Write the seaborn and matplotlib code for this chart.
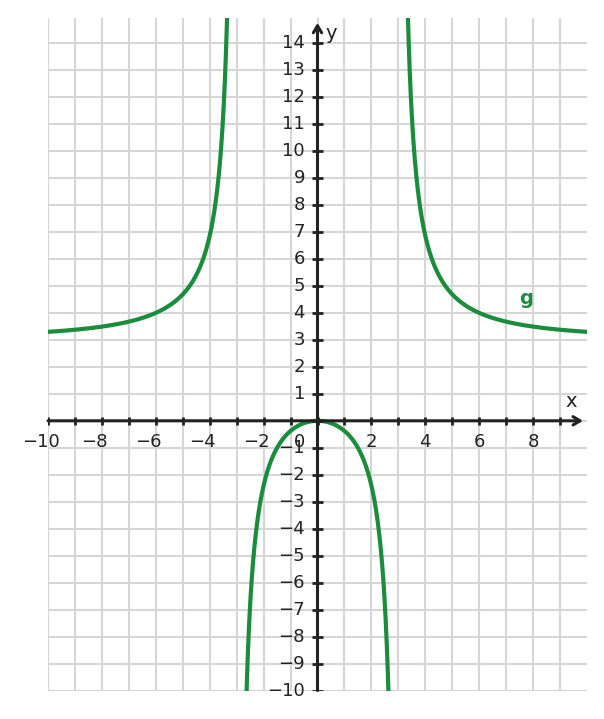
import numpy as np
import pandas as pd
import matplotlib
matplotlib.use("Agg")
import matplotlib.pyplot as plt
import seaborn as sns

# ---- data ----
x_min, x_max = -10, 10
y_min, y_max = -10, 14.93
# g(x) = a*x^2 / (x^2 - p^2): horizontal asymptote y=a, poles at x=+-p
g_coef = 3.0
g_pole = 3.0
x_tick_labels = [-10, -8, -6, -4, -2, 2, 4, 6, 8]
y_tick_labels = [v for v in range(-10, 15) if v != 0]
curve_label = "g"

GREEN = "#1a8c3c"
DARK = "#222222"
GRID = "#d6d6d6"
FS = 13

def g(x):
    return g_coef * x**2 / (x**2 - g_pole**2)

segments = []
for name, (a, b) in {"left": (x_min, -g_pole - 1e-3),
                     "mid": (-g_pole + 1e-3, g_pole - 1e-3),
                     "right": (g_pole + 1e-3, x_max)}.items():
    xs = np.linspace(a, b, 4000)
    ys = g(xs)
    m = np.abs(ys) < 40
    segments.append(pd.DataFrame({"x": xs[m], "y": ys[m], "seg": name}))
df = pd.concat(segments, ignore_index=True)

sns.set_style("white")
plt.rcParams["font.family"] = ["DejaVu Sans"]

fig = plt.figure(figsize=(6.04, 7.19), dpi=100)
ax = fig.add_axes([48 / 604, 1 - 690.6 / 719, 539 / 604, (690.6 - 18) / 719])

# grid
ax.set_xlim(x_min, x_max)
ax.set_ylim(y_min, y_max)
ax.set_xticks(range(-10, 10))
ax.set_yticks(range(-10, 15))
ax.grid(True, color=GRID, lw=1.5)
ax.tick_params(length=0, labelbottom=False, labelleft=False)
for s in ax.spines.values():
    s.set_visible(False)

# curve
sns.lineplot(data=df, x="x", y="y", units="seg", estimator=None, sort=False,
             color=GREEN, lw=3, ax=ax, zorder=3, legend=False)
ax.set_xlabel("")
ax.set_ylabel("")

# axes with arrows
ax.annotate("", xy=(9.85, 0), xytext=(-10, 0),
            arrowprops=dict(arrowstyle="->,head_length=0.5,head_width=0.3", lw=2.2, color=DARK,
                            shrinkA=0, shrinkB=0), zorder=4, annotation_clip=False)
ax.annotate("", xy=(0, 14.75), xytext=(0, -10),
            arrowprops=dict(arrowstyle="->,head_length=0.5,head_width=0.3", lw=2.2, color=DARK,
                            shrinkA=0, shrinkB=0), zorder=4, annotation_clip=False)

# tick marks
ax.vlines(range(-10, 10), -0.15, 0.15, color=DARK, lw=2, zorder=4)
ax.hlines(range(-10, 15), -0.2, 0.2, color=DARK, lw=2, zorder=4)

# x tick labels: digits centered on the tick, minus hangs left
for v in x_tick_labels:
    digits = str(abs(v))
    half = len(digits) * 0.636 * FS / 2
    txt = ("\u2212" if v < 0 else "") + digits
    ax.annotate(txt, xy=(v, 0), xytext=(half * 72 / 72, -9), textcoords="offset points",
                ha="right", va="top", fontsize=FS, color=DARK, annotation_clip=False, zorder=5)
ax.annotate("0", xy=(0, 0), xytext=(-9, -9), textcoords="offset points",
            ha="right", va="top", fontsize=FS, color=DARK, zorder=5)

# y tick labels
for v in y_tick_labels:
    txt = ("\u2212" if v < 0 else "") + str(abs(v))
    ax.annotate(txt, xy=(0, v), xytext=(-9, 0), textcoords="offset points",
                ha="right", va="center", fontsize=FS, color=DARK, zorder=5)

# axis names and curve label
ax.text(9.41, 0.72, "x", fontsize=FS + 1, color=DARK, ha="center", va="center")
ax.text(0.3, 14.35, "y", fontsize=FS + 1, color=DARK, ha="left", va="center")
ax.text(7.74, 4.55, curve_label, fontsize=FS + 1, color=GREEN, fontweight="bold",
        ha="center", va="center")

fig.savefig("out.png", dpi=100)
